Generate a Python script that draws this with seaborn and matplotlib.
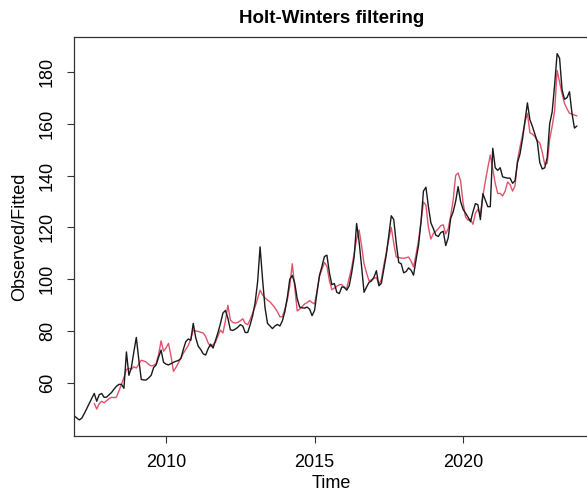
import numpy as np
import pandas as pd
import matplotlib.pyplot as plt
import seaborn as sns

# monthly series, observed starts Dec 2006, fitted starts Aug 2007
obs_start = 2006 + 11 / 12
fit_start = 2007 + 7 / 12

observed = [
    47.3,
    46.5, 45.8, 46.5, 48.3, 50.2, 52.2, 54.1, 56.0, 53.0, 55.5, 56.0, 54.5,
    54.6, 55.5, 56.4, 57.7, 58.8, 59.5, 59.5, 58.0, 72.0, 63.0, 66.0, 72.0,
    77.6, 69.0, 61.4, 61.2, 61.2, 62.0, 63.0, 66.0, 67.0, 70.0, 72.7, 68.0,
    67.3, 67.0, 67.5, 68.0, 68.4, 68.7, 69.5, 73.0, 76.0, 77.0, 76.5, 83.0,
    77.5, 74.2, 73.0, 71.3, 70.8, 73.2, 75.0, 73.5, 76.5, 79.5, 83.0, 87.0,
    88.0, 85.0, 80.5, 80.3, 80.8, 81.5, 82.5, 82.0, 79.5, 79.5, 82.5, 86.0,
    91.0, 99.0, 112.5, 100.0, 89.0, 83.0, 82.0, 81.0, 82.0, 82.6, 82.0, 84.0,
    87.5, 93.0, 100.0, 101.5, 98.5, 92.5, 89.3, 89.0, 88.9, 89.3, 88.5, 86.0,
    88.0, 95.0, 101.5, 105.0, 108.8, 109.3, 102.5, 97.9, 98.4, 95.0, 94.5, 97.0,
    97.0, 95.8, 97.5, 102.5, 108.5, 121.5, 114.5, 105.0, 95.0, 97.0, 98.8, 99.4,
    100.8, 103.3, 97.5, 98.5, 104.0, 109.5, 117.0, 124.5, 123.0, 114.0, 106.5, 106.0,
    102.5, 103.0, 104.4, 103.5, 101.6, 107.5, 113.0, 122.0, 134.0, 135.5, 128.0, 121.8,
    119.5, 117.0, 116.5, 118.0, 118.5, 113.0, 116.0, 123.5, 126.0, 130.0, 135.7, 130.0,
    127.0, 125.5, 124.0, 122.2, 126.0, 129.2, 128.7, 123.0, 133.0, 130.5, 128.0, 128.0,
    150.5, 143.0, 142.0, 143.0, 139.5, 139.2, 139.0, 139.0, 137.0, 138.0, 145.0, 148.3,
    154.0, 161.0, 168.0, 161.5, 159.0, 156.0, 153.0, 145.0, 142.5, 143.0, 147.0, 160.0,
    164.5, 175.0, 187.0, 185.2, 173.0, 169.4, 170.0, 172.3, 164.0, 158.3, 159.1,
]

fitted = [
    52.2, 50.0, 52.0, 53.0, 52.4,
    53.2, 54.0, 54.5, 54.4, 54.6, 57.0, 59.5, 62.2, 65.2, 65.7, 65.3, 66.3,
    65.8, 67.3, 68.8, 68.5, 68.1, 67.2, 66.6, 66.8, 67.5, 71.0, 76.3, 72.3,
    73.5, 75.3, 70.5, 64.5, 66.0, 67.8, 69.6, 71.5, 73.0, 74.5, 77.0, 80.4,
    80.1, 79.9, 79.6, 79.3, 78.0, 75.5, 74.1, 74.8, 75.8, 78.2, 80.4, 79.3,
    84.0, 90.0, 84.3, 83.4, 83.1, 83.4, 84.0, 84.8, 83.0, 82.5, 84.5, 87.0,
    89.5, 92.5, 95.8, 94.0, 92.8, 92.0, 91.3, 90.2, 89.0, 87.5, 85.6, 85.5,
    88.5, 92.0, 97.5, 106.0, 97.0, 87.8, 88.5, 89.5, 90.5, 91.0, 91.8, 91.0,
    90.5, 95.5, 101.2, 103.8, 106.5, 105.0, 99.5, 96.0, 96.6, 97.3, 97.9, 98.0,
    96.7, 96.5, 100.5, 104.5, 110.0, 115.5, 119.0, 113.0, 106.0, 102.5, 99.4, 99.8,
    100.4, 100.7, 98.0, 100.0, 105.5, 110.3, 115.5, 120.0, 114.0, 108.6, 108.4, 108.2,
    108.1, 108.3, 108.6, 107.0, 104.8, 109.5, 115.0, 122.0, 129.8, 128.6, 120.0, 115.5,
    117.7, 118.5, 119.5, 120.7, 121.0, 117.5, 119.5, 124.5, 130.5, 140.0, 141.0, 138.0,
    129.5, 124.0, 122.8, 123.2, 121.2, 125.5, 127.0, 125.0, 132.0, 137.8, 143.0, 147.9,
    142.5, 137.0, 133.1, 133.1, 132.1, 134.0, 137.5, 136.5, 134.0, 136.0, 146.0, 151.0,
    155.5, 160.5, 164.0, 156.5, 156.0, 155.0, 153.5, 152.5, 149.0, 144.3, 144.7, 154.0,
    159.0, 165.0, 180.5, 176.0, 171.5, 167.8, 165.7, 164.0, 163.7, 163.3, 163.0,
]

x_ticks = [2010, 2015, 2020]
y_ticks = [60, 80, 100, 120, 140, 160, 180]

t_obs = obs_start + np.arange(len(observed)) / 12
t_fit = fit_start + np.arange(len(fitted)) / 12
obs_df = pd.DataFrame({"Time": t_obs, "value": observed})
fit_df = pd.DataFrame({"Time": t_fit, "value": fitted})

sns.set_style("ticks")
plt.rcParams['font.family'] = ['Liberation Sans', 'DejaVu Sans']
plt.rcParams['text.color'] = 'black'
plt.rcParams['axes.labelcolor'] = 'black'
plt.rcParams['xtick.color'] = 'black'
plt.rcParams['ytick.color'] = 'black'

fig = plt.figure(figsize=(5.87, 4.93), dpi=100)
ax = fig.add_axes([74 / 587, 57 / 493, 515 / 587, 399 / 493])

sns.lineplot(data=fit_df, x="Time", y="value", color="#DF536B", lw=1.0, ax=ax)
sns.lineplot(data=obs_df, x="Time", y="value", color="#1a1a1a", lw=1.0, ax=ax)

ax.set_xlim(2006.902, 2024.24)
ax.set_ylim(39.6, 193.4)
ax.set_xticks(x_ticks)
ax.set_yticks(y_ticks)
ax.tick_params(direction='out', length=5, width=0.8, color='#333333',
               labelcolor='black', labelsize=13, pad=8)
for lab in ax.get_yticklabels():
    lab.set_rotation(90)
    lab.set_va('center')

for s in ax.spines.values():
    s.set_visible(True)
    s.set_linewidth(0.9)
    s.set_color('#333333')

ax.set_title("Holt-Winters filtering", fontweight='bold', fontsize=13.5,
             pad=10, color='black')
ax.set_xlabel("Time", fontsize=13, labelpad=3, color='black')
ax.set_ylabel("Observed/Fitted", fontsize=13, labelpad=8, color='black')

fig.savefig("out.png", dpi=100)
